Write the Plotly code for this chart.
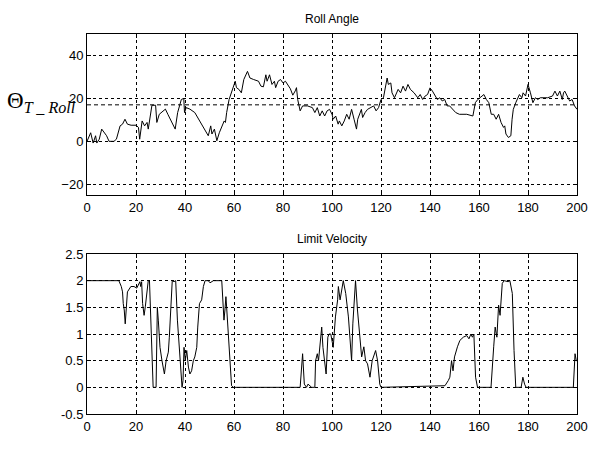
import plotly.graph_objects as go
from plotly.subplots import make_subplots

# Roll angle (top)
roll_t = [0, 1.5, 2.5, 3.5, 4, 5, 6, 8, 9, 11, 12, 13.5, 14.5, 15.5, 16.5, 18, 20, 21, 21.5, 22.5,
          23.5, 24.5, 25, 26, 26.5, 28, 28.5, 29.5, 30.5, 32, 33, 35.5, 36, 37, 38.5, 39.5, 39.8, 40.5,
          42, 44, 46, 47, 48.5, 49.5, 50.5, 51, 52, 53, 54, 55, 56, 56.5, 57, 58, 59.5, 60.5, 61, 62,
          63, 63.5, 64, 65.5, 66.5, 68, 70, 71, 72, 73, 73.5, 74.5, 75.5, 76.5, 77, 78, 79, 80, 81, 83,
          84, 85, 85.5, 86, 87, 88, 90, 92, 93, 94, 95, 96, 97, 98, 99, 100, 100.5, 101.5, 102.5, 103,
          104, 105, 106, 107, 108, 109, 110, 110.5, 111.5, 112, 112.5, 113.5, 114.5, 116, 117, 118, 119,
          120, 121, 122.5, 123, 124, 124.5, 125.5, 127, 128, 129, 130, 131, 132, 133.5, 135, 136, 137,
          138, 139, 140, 141, 142, 143, 144, 145, 146, 147, 148, 149.5, 150.5, 152, 155, 157.5, 158.5,
          159.5, 161, 162, 163, 164, 165, 166, 167, 168, 169, 170, 170.5, 171, 172, 173, 173.5, 174, 175,
          175.5, 176.5, 177.5, 178, 179, 180, 181, 182, 183, 184, 185, 188, 190, 191, 192, 193, 194,
          194.5, 195, 196, 197, 198, 199, 200]
roll_v = [0, 4, -0.8, 2.6, -0.8, 1, 5.7, 2.6, 0, 0, 1, 7.2, 8, 10.3, 8, 7.5, 7.5, 6.5, 1, 9.5,
          7.2, 8.8, 5.7, 14, 16.8, 16.8, 8.8, 12.6, 13.4, 15, 12.6, 6.5, 5.7, 13.4, 19.5, 20, 13.4, 15.7,
          15, 13.4, 9.5, 8, 5, 2.6, 7.2, 3.4, 5.7, 0.3, 4, 7.2, 9.5, 8.8, 13.4, 19.5, 25, 28, 25, 24.2,
          22.6, 25.4, 28.8, 32.6, 29.5, 28.8, 28, 25.7, 25.4, 31, 28, 31, 26.5, 28, 25, 28, 28.8, 27.2, 28, 24.5,
          21.5, 23.5, 25, 19.5, 14.2, 16.5, 16.5, 15.7, 13.4, 15.7, 11.8, 14.2, 11.8, 14.2, 14.9, 12.6, 10.3, 11.8, 8, 9.5,
          7.2, 9.5, 12.6, 10.3, 14.9, 10.3, 5.7, 10.3, 13.4, 14.9, 11.1, 13.4, 14.9, 15.7, 16.5, 14.2, 15.7,
          19.5, 20.3, 29.5, 26.5, 27.2, 22.6, 20.3, 24.2, 22.6, 25.7, 23.4, 26.5, 24.2, 22.6, 20.3, 21.8, 19.5,
          21.1, 21.8, 24.9, 23.4, 21.1, 19.5, 20.3, 18.8, 19.5, 16.5, 16.5, 14.9, 13.4, 12.6, 12.6, 11.8, 18,
          19.5, 21.1, 21.8, 19.5, 18, 12.6, 12.6, 10.3, 12.6, 8.8, 6.5, 7.2, 3.4, 1.8, 2.6, 10.3, 14.9, 18,
          19.5, 21.8, 20.3, 22.6, 21.1, 26.5, 22.6, 18, 20.3, 19.5, 20.3, 20.3, 21.1, 23.4, 21.1, 23.4, 19.5,
          22.6, 23.4, 21.1, 18.8, 19.5, 16.5, 14.9]
roll_threshold = 17

# Limit velocity (bottom)
vel_t = [0, 13, 14, 14.5, 14.8, 15.2, 15.6, 16.1, 16.5, 17.9, 19.2, 20.3, 21, 21.6, 21.9, 22.3, 22.7,
         23.3, 23.8, 24.4, 25, 25.5, 26, 26.4, 26.8, 27, 28.2, 28.4, 28.7, 29.1, 29.8, 30.6, 31.6, 32.3,
         33.2, 33.6, 34, 34.8, 35.5, 36.2, 36.9, 38, 38.8, 39.2, 39.6, 40.1, 40.7, 41.4, 42, 42.7, 43.4,
         44, 44.8, 45.2, 45.9, 46.8, 47.5, 48.2, 49.5, 50.2, 51.6, 55, 55.4, 55.9, 56.3, 56.7, 57, 57.7,
         58.4, 59, 59.7, 87, 88, 88.7, 89.6, 90.2, 91.7, 93, 93.3, 94, 94.5, 95.3, 95.8, 96.3, 97, 97.6,
         98.3, 98.8, 99.5, 100.5, 101.4, 102.3, 102.6, 103.3, 104.6, 105.6, 106.7, 108, 108.5, 109.2,
         109.6, 110.4, 111.4, 112.1, 113, 113.7, 114.5, 115.5, 116.4, 117.8, 118.6, 119.5, 120, 146.1,
         147.5, 148.1, 148.8, 149.4, 150, 150.6, 151.2, 152.2, 153.6, 155, 155.9, 156.7, 157.3, 157.9,
         158.6, 159.4, 164.9, 166, 166.6, 167.3, 168, 168.6, 169.5, 170.3, 171.9, 172.6, 173.6, 174.3,
         175, 177.2, 177.9, 178.6, 179.2, 198.5, 199.2, 199.7, 200]
vel_v = [2, 2, 1.89, 1.79, 1.57, 1.45, 1.19, 1.5, 1.79, 1.89, 1.89, 1.86, 1.92, 1.98, 1.89, 1.98, 1.57,
         1.35, 1.51, 1.83, 2, 2, 1.26, 0.63, 0.13, 0, 0, 0.63, 1.5, 1.26, 0.75, 0.5, 0.25, 0.5,
         0.66, 0.94, 1.26, 2, 1.98, 2, 1.26, 0.63, 0, 0.13, 0.75, 0.5, 0.69, 0.38, 0.25, 0.31, 0.5,
         0.57, 0.75, 1.13, 1.57, 1.64, 1.89, 2, 2, 1.96, 2, 2, 1.7, 1.26, 1.45, 1.7, 1.5, 0.94,
         0.38, 0.03, 0, 0, 0.63, 0.06, 0, 0.06, 0, 0, 0.5, 0.63, 0.5, 0.94, 1.13, 0.75, 0.5, 0.25,
         0.94, 1.0, 1.0, 0.75, 1.32, 1.64, 1.89, 1.64, 2, 1.76, 1.32, 0.5, 1.19, 1.64,
         2, 1.45, 0.82, 0.57, 0.76, 0.5, 0.44, 0.19, 0.5, 0.69, 0.5, 0.06, 0, 0.03,
         0.13, 0.19, 0.5, 0.31, 0.57, 0.69, 0.76, 0.88, 0.94, 0.97, 0.91, 1.0, 0.94, 1.0,
         0.19, 0, 0, 0.76, 1.13, 0.94, 1.54, 1.35, 1.95, 2, 1.98, 2, 1.76, 0.69,
         0, 0, 0.19, 0.06, 0, 0, 0.63, 0.5, 0.5]

x_ticks = [0, 20, 40, 60, 80, 100, 120, 140, 160, 180, 200]
roll_ticks = [-20, 0, 20, 40]
vel_ticks = [-0.5, 0, 0.5, 1, 1.5, 2, 2.5]
vel_tick_text = ["-0.5", "0", "0.5", "1", "1.5", "2", "2.5"]

W, H = 589, 458
L, R, T, B = 87, 12, 34, 44
plot_h = H - T - B
top_bottom_px = 195
bot_top_px = 254

fig = make_subplots(rows=2, cols=1)
fig.add_trace(go.Scatter(x=roll_t, y=roll_v, mode="lines",
                         line=dict(color="black", width=1)), row=1, col=1)
fig.add_trace(go.Scatter(x=vel_t, y=vel_v, mode="lines",
                         line=dict(color="black", width=1)), row=2, col=1)

fig.add_shape(type="line", xref="x", yref="y", x0=0, x1=200, y0=roll_threshold, y1=roll_threshold,
              line=dict(color="black", width=1, dash="4px,3px"))

font = dict(family="Arial, Liberation Sans, sans-serif", size=12, color="black")
axis_common = dict(showline=True, linecolor="black", linewidth=1, mirror="ticks",
                   ticks="inside", ticklen=4, tickcolor="black", automargin=False,
                   showgrid=True, gridcolor="black", gridwidth=1, griddash="3px,3px",
                   zeroline=False, tickfont=dict(family="Arial, Liberation Sans, sans-serif", size=13, color="black"))

top_dom = [(H - B - top_bottom_px) / plot_h, 1]
bot_dom = [0, (H - B - bot_top_px) / plot_h]

fig.update_xaxes(range=[0, 200], tickvals=x_ticks, domain=[0, 1], **axis_common)
fig.update_yaxes(**axis_common)
fig.update_yaxes(range=[-25, 50], tickvals=roll_ticks, domain=top_dom, row=1, col=1)
fig.update_yaxes(range=[-0.5, 2.5], tickvals=vel_ticks, ticktext=vel_tick_text, domain=bot_dom, row=2, col=1)

fig.add_annotation(text="Roll Angle", xref="paper", yref="paper", x=0.5, y=1, yshift=6,
                   yanchor="bottom", showarrow=False, font=font)
fig.add_annotation(text="Limit Velocity", xref="paper", yref="paper", x=0.5, y=bot_dom[1], yshift=6,
                   yanchor="bottom", showarrow=False, font=font)
fig.add_annotation(text="Θ<sub><i>T _ Roll</i></sub>", xref="paper", yref="y",
                   x=-(L - 5) / (W - L - R), y=roll_threshold + 1.5, xanchor="left", yanchor="middle",
                   showarrow=False,
                   font=dict(family="Times New Roman, Liberation Serif, serif", size=23, color="black"))

fig.update_layout(width=W, height=H, margin=dict(l=L, r=R, t=T, b=B),
                  plot_bgcolor="white", paper_bgcolor="white", showlegend=False, font=font)

fig.write_html("out.html")
